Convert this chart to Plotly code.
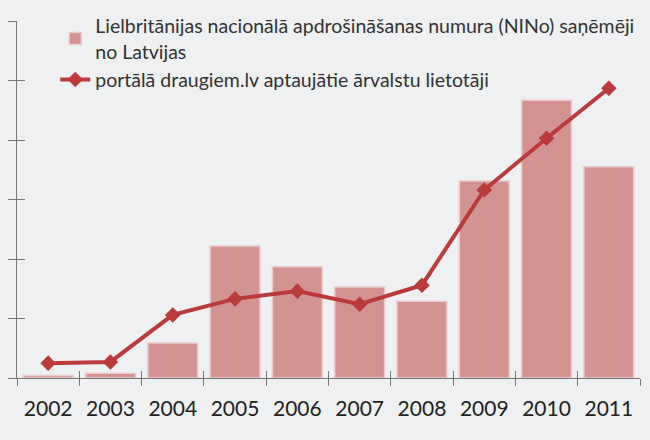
import plotly.graph_objects as go

years = ["2002", "2003", "2004", "2005", "2006", "2007", "2008", "2009", "2010", "2011"]
nino = [0.04, 0.08, 0.59, 2.22, 1.87, 1.53, 1.29, 3.31, 4.67, 3.55]
draugiem = [0.25, 0.27, 1.06, 1.33, 1.46, 1.24, 1.56, 3.16, 4.03, 4.87]
name_bar = "Lielbritānijas nacionālā apdrošināšanas numura (NINo) saņēmēji<br>no Latvijas"
name_line = "portālā draugiem.lv aptaujātie ārvalstu lietotāji"

FONT = "Lato"
fig = go.Figure()
fig.add_trace(go.Bar(x=years, y=nino, name=name_bar, width=0.8,
                     marker=dict(color="#d49393", line=dict(color="#ebcaca", width=1.5))))
fig.add_trace(go.Scatter(x=years, y=draugiem, name=name_line, mode="lines+markers",
                         line=dict(color="#b93b3b", width=4),
                         marker=dict(symbol="diamond", size=12, color="#b93b3b")))
# invisible helper trace for inner ticks
fig.add_trace(go.Scatter(x=years, y=[None]*len(years), xaxis="x2", yaxis="y2",
                         showlegend=False, hoverinfo="skip"))

fig.update_layout(
    width=650, height=440,
    margin=dict(l=17, r=10, t=21, b=62, autoexpand=False),
    paper_bgcolor="#eef0f2", plot_bgcolor="rgba(0,0,0,0)",
    font=dict(family=FONT, color="#222"),
    showlegend=True,
    legend=dict(x=0.085, y=0.985, xref="container", yref="container",
                xanchor="left", yanchor="top",
                bgcolor="rgba(0,0,0,0)", font=dict(size=19.5, color="#333"),
                traceorder="normal", tracegroupgap=18, itemwidth=30),
    xaxis=dict(type="category", range=[-0.5, 9.5], showgrid=False, showline=True,
               linecolor="#777", linewidth=1, ticks="outside", tickson="boundaries",
               ticklen=7, tickcolor="#777", tickfont=dict(size=21, color="#222"),
               ticklabelstandoff=12, zeroline=False),
    yaxis=dict(range=[0, 6], dtick=1, showgrid=False, showline=True, linecolor="#777",
               linewidth=1, ticks="outside", ticklen=8, tickcolor="#777",
               showticklabels=False, zeroline=False),
    xaxis2=dict(type="category", range=[-0.5, 9.5], overlaying="x", showgrid=False,
                showline=False, ticks="inside", tickson="boundaries", ticklen=7,
                tickcolor="#777", showticklabels=False, zeroline=False, side="bottom",
                categoryarray=years),
    yaxis2=dict(range=[0, 6], dtick=1, overlaying="y", showgrid=False, showline=False,
                ticks="inside", ticklen=8, tickcolor="#777", showticklabels=False,
                zeroline=False, side="left"),
)
fig.write_html("out.html")
